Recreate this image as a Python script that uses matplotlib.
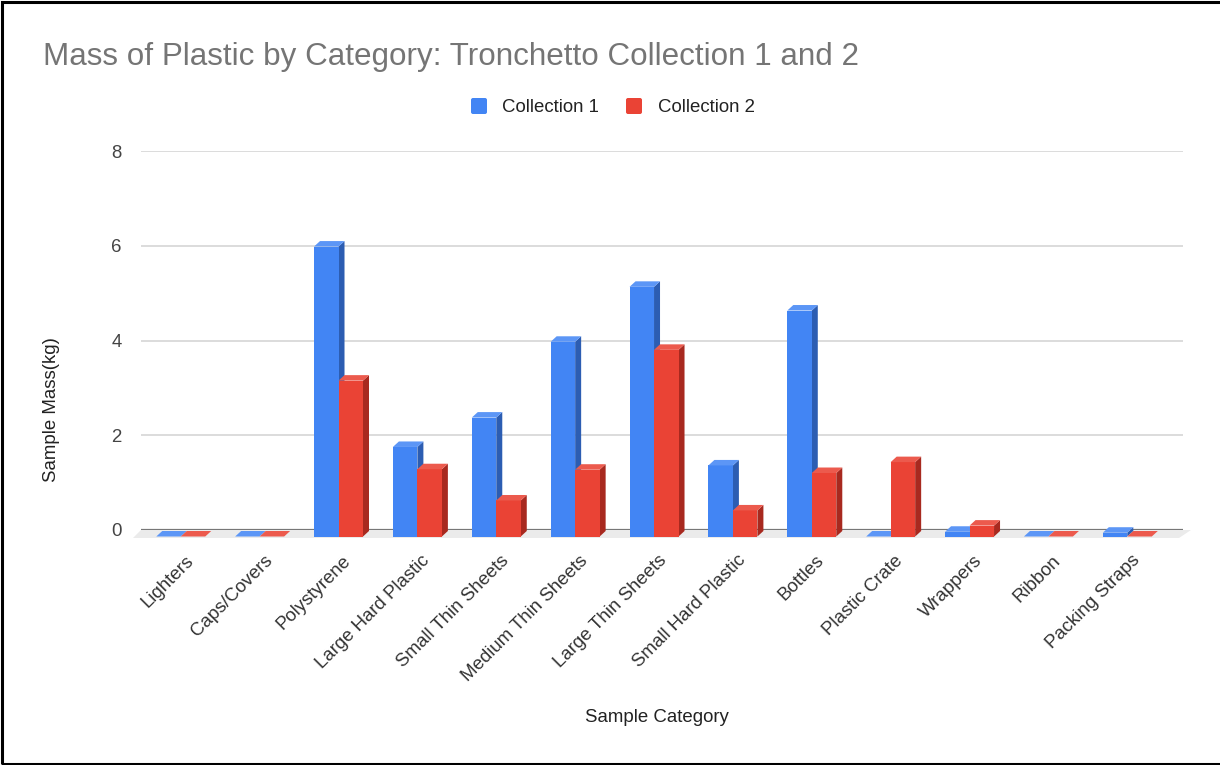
import matplotlib
matplotlib.use("Agg")
import matplotlib.pyplot as plt
from matplotlib.patches import Polygon, Rectangle, FancyBboxPatch
from matplotlib.transforms import IdentityTransform
import numpy as np

# ---- data -------------------------------------------------------------
categories = ["Lighters", "Caps/Covers", "Polystyrene", "Large Hard Plastic",
              "Small Thin Sheets", "Medium Thin Sheets", "Large Thin Sheets",
              "Small Hard Plastic", "Bottles", "Plastic Crate", "Wrappers",
              "Ribbon", "Packing Straps"]
collection_1 = [0.0, 0.0, 6.12, 1.89, 2.51, 4.11, 5.27, 1.50, 4.77, 0.0, 0.10, 0.0, 0.08]
collection_2 = [0.0, 0.0, 3.29, 1.42, 0.76, 1.41, 3.94, 0.55, 1.34, 1.57, 0.23, 0.0, 0.0]
series_names = ["Collection 1", "Collection 2"]
y_ticks = [0, 2, 4, 6, 8]

title = "Mass of Plastic by Category: Tronchetto Collection 1 and 2"
x_title = "Sample Category"
y_title = "Sample Mass(kg)"

# ---- style ------------------------------------------------------------
FONT = "Liberation Sans"
W, H = 1220, 765
front_col = ["#4285F4", "#EA4335"]
top_col = ["#5C96F6", "#EC5A4D"]
side_col = ["#2C5DB2", "#A8291F"]

fig = plt.figure(figsize=(W / 100, H / 100), dpi=100)
fig.patch.set_facecolor("white")

ax_l, ax_r = 141, 1183
ax_top, ax_bot = 151, 530
ax = fig.add_axes([ax_l / W, (H - ax_bot) / H, (ax_r - ax_l) / W, (ax_bot - ax_top) / H])
ax.set_xlim(-0.58, 12.63)
ax.set_ylim(0, 8)
ax.set_facecolor("none")
for s in ax.spines.values():
    s.set_visible(False)
ax.set_yticks(y_ticks)
ax.set_yticklabels([str(t) for t in y_ticks], fontsize=13.4, color="#444444", family=FONT)
ax.tick_params(axis="y", length=0, pad=14)
ax.set_xticks([])
for t in y_ticks[1:]:
    ax.axhline(t, color="#d9d9d9", lw=1.3, zorder=0)

# floor strip of the 3D plot, under the baseline
fl = np.array([[ax_l, H - ax_bot], [ax_r + 8, H - ax_bot],
               [ax_r - 4, H - ax_bot - 8], [ax_l - 8, H - ax_bot - 8]])
fig.patches.append(Polygon(fl, closed=True, transform=IdentityTransform(),
                           facecolor="#ebebeb", edgecolor="none", zorder=1))
ax.axhline(0, color="#777777", lw=1.6, zorder=2)

# ---- 3D bars ----------------------------------------------------------
bar_w = 24.5 / 78.9
front_off = np.array([-6.0, -6.5])   # front face shift in pixels
depth = np.array([6.0, 5.5])         # front -> back edge

fig.canvas.draw()


def to_px(x, y):
    return ax.transData.transform((x, y))


def draw_bar(x0, x1, v, k, z):
    bl = to_px(x0, 0) + front_off
    br = to_px(x1, 0) + front_off
    tl = to_px(x0, v) + front_off
    tr = to_px(x1, v) + front_off
    kw = dict(transform=IdentityTransform(), edgecolor="none", zorder=z)
    # side face
    fig.patches.append(Polygon([br, tr, tr + depth, br + depth], closed=True,
                               facecolor=side_col[k], **kw))
    # front face
    fig.patches.append(Polygon([bl, br, tr, tl], closed=True,
                               facecolor=front_col[k], **kw))
    # top face
    fig.patches.append(Polygon([tl, tr, tr + depth, tl + depth], closed=True,
                               facecolor=top_col[k], **kw))


for i, (a, b) in enumerate(zip(collection_1, collection_2)):
    draw_bar(i - bar_w, i, a, 0, 3 + i * 0.01)
    draw_bar(i, i + bar_w, b, 1, 3.005 + i * 0.01)

# ---- category labels --------------------------------------------------
for i, name in enumerate(categories):
    px, py = to_px(i, 0)
    fig.text((px + 4) / W, (py - 28) / H, name, rotation=45, rotation_mode="anchor",
             ha="right", va="center", fontsize=13.4, color="#333333", family=FONT)

# ---- titles -----------------------------------------------------------
fig.text(43 / W, (H - 64.5) / H, title, fontsize=22.6, color="#757575",
         family=FONT, ha="left", va="baseline")
fig.text(657 / W, (H - 717) / H, x_title, fontsize=13.4, color="#222222",
         family=FONT, ha="center", va="center")
fig.text(52 / W, (H - 410) / H, y_title, fontsize=13.4, color="#222222",
         family=FONT, ha="center", va="center", rotation=90)

# ---- legend -----------------------------------------------------------
leg_sq = [(471, 98), (626, 98)]
leg_tx = [502, 658]
for k in range(2):
    sx, sy = leg_sq[k]
    fig.patches.append(FancyBboxPatch((sx, H - sy - 16), 16, 16,
                                      boxstyle="round,pad=0,rounding_size=2",
                                      transform=IdentityTransform(),
                                      facecolor=front_col[k], edgecolor="none"))
    fig.text(leg_tx[k] / W, (H - 112.5) / H, series_names[k], fontsize=13.4,
             color="#222222", family=FONT, ha="left", va="baseline")

# ---- outer frame ------------------------------------------------------
fig.patches.append(Rectangle((1.5, 1.5), W - 3 + 10, H - 3, transform=IdentityTransform(),
                             facecolor="none", edgecolor="black", lw=2.2, zorder=10))

fig.savefig("out.png", dpi=100, facecolor="white")
